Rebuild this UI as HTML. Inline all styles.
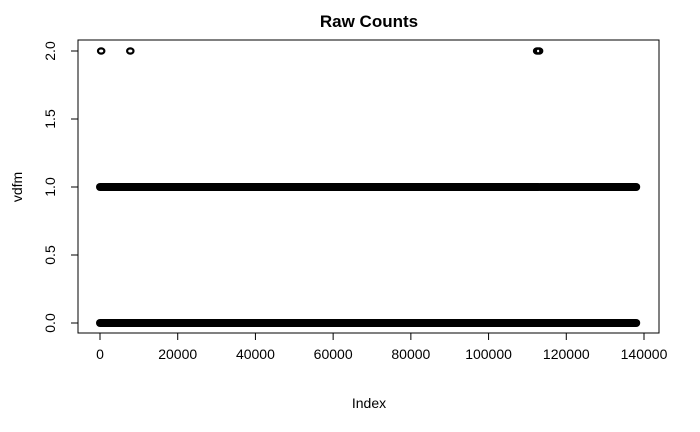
<!DOCTYPE html>
<html><head><meta charset="utf-8"><style>
body{margin:0;background:#fff;}
svg{display:block;font-family:"Liberation Sans",Arial,sans-serif;}
</style></head><body>
<svg id="c" width="700" height="432">
<text x="369" y="27" text-anchor="middle" font-size="17" font-weight="bold">Raw Counts</text>
<rect x="78" y="40" width="581" height="293" fill="none" stroke="#000" stroke-width="1"/>
<text x="369" y="408" text-anchor="middle" font-size="14">Index</text>
<text transform="translate(22,187) rotate(-90)" text-anchor="middle" font-size="14">vdfm</text>
<g id="axes"></g><g id="marks"></g>
</svg>
<script>
const xTicks=[0,20000,40000,60000,80000,100000,120000,140000];
const yTicks=[0,0.5,1,1.5,2];
const yTickLabels=["0.0","0.5","1.0","1.5","2.0"];
// runs of consecutive points: value, start index, end index
const runValues=[0,1,1];
const runStarts=[0,0,113300];
const runEnds=[138000,112800,138000];
// isolated points with value 2
const twoIdx=[300,7800,112500,113000];
const twoVal=[2,2,2,2];
const X=v=>100+v*(544/140000);
const Y=v=>323-v*136;
const NS="http://www.w3.org/2000/svg";
function mk(t,a,p){const e=document.createElementNS(NS,t);for(const k in a)e.setAttribute(k,a[k]);p.appendChild(e);return e;}
const ax=document.getElementById('axes'),mg=document.getElementById('marks');
const xl=mk('line',{x1:X(xTicks[0]),x2:X(xTicks[xTicks.length-1]),y1:333,y2:333,stroke:'#000'},ax);


xTicks.forEach(t=>{
 const l=mk('line',{x1:X(t),x2:X(t),y1:333,y2:340,stroke:'#000'},ax);
 
 
 const tx=mk('text',{x:X(t),y:359,'text-anchor':'middle','font-size':14},ax);tx.textContent=t;
 
 
});
const yl=mk('line',{x1:78,x2:78,y1:Y(0),y2:Y(2),stroke:'#000'},ax);


yTicks.forEach((t,i)=>{
 const l=mk('line',{x1:71,x2:78,y1:Y(t),y2:Y(t),stroke:'#000'},ax);
 
 
 const tx=mk('text',{x:0,y:0,'text-anchor':'middle','font-size':14,transform:`translate(55,${Y(t)}) rotate(-90)`},ax);tx.textContent=yTickLabels[i];
 
 
});
runValues.forEach((v,i)=>{
 const l=mk('line',{x1:X(runStarts[i]),x2:X(runEnds[i]),y1:Y(v),y2:Y(v),stroke:'#000','stroke-width':8,'stroke-linecap':'round'},mg);
 
 
});
twoIdx.forEach((v,i)=>{
 const c=mk('ellipse',{cx:X(v),cy:Y(twoVal[i]),rx:3.2,ry:2.6,fill:'none',stroke:'#000','stroke-width':2.2},mg);
 
 
});
</script>
</body></html>
